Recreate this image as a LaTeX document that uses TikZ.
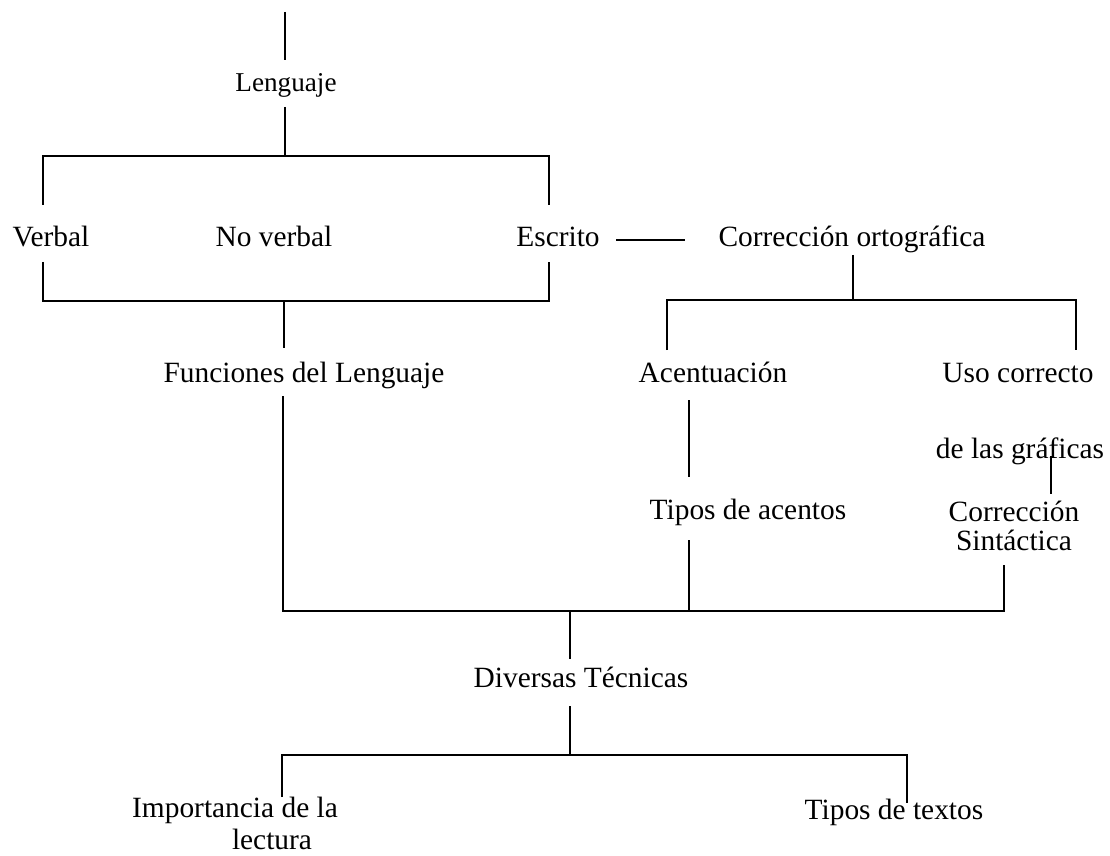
\documentclass[tikz,border=0pt]{standalone}
\usepackage{fontspec}
\setmainfont{Liberation Serif}
\usetikzlibrary{positioning}

\begin{document}
\begin{tikzpicture}[x=0.5pt, y=-0.5pt,
    txt/.style={font=\fontsize{14.7}{14.5}\selectfont, inner sep=1pt, align=center,
        text height=10pt, text depth=3pt},
    rama/.style={line width=0.9pt}]
    \useasboundingbox (0,0) rectangle (1110,856);

    \node[txt, font=\fontsize{13.6}{14}\selectfont] (lenguaje) at (286,85) {Lenguaje};
    \node[txt] (verbal) at (51,240) {Verbal};
    \node[txt] (noverbal) at (274,240) {No verbal};
    \node[txt] (escrito) at (558,240) {Escrito};
    \node[txt] (ortografica) at (852,240) {Corrección ortográfica};
    \node[txt] (funciones) at (304,375) {Funciones del Lenguaje};
    \node[txt] (acentuacion) at (713,375) {Acentuación};
    \node[txt] (uso) at (1018,375) {Uso correcto};
    \node[txt] (graficas) at (1020,451) {de las gráficas};
    \node[txt] (acentos) at (748,512) {Tipos de acentos};
    \node[txt] (sintactica) at (1014,543) {Corrección\\Sintáctica};
    \node[txt] (diversas) at (581,680) {Diversas Técnicas};
    \node[txt] (importancia) at (235,810) {Importancia de la};
    \node[txt] (lectura) at (272,842) {lectura};
    \node[txt] (textos) at (894,812) {Tipos de textos};

    \coordinate (r1) at (285,156);
    \coordinate (r2) at (284,301);
    \coordinate (r3) at (853,300);
    \coordinate (r4) at (570,611);
    \coordinate (r5) at (570,755);

    \draw[rama] (285,12) -- (285,60);
    \draw[rama] (285,107) -- (r1);
    \draw[rama] (43,205) |- (r1) -| (549,205);
    \draw[rama] (43,262) |- (r2) -| (549,262);
    \draw[rama] (r2) -- (284,348);
    \draw[rama, shorten <=7pt, shorten >=15.5pt] (escrito) -- (ortografica);
    \draw[rama] (853,255) -- (r3);
    \draw[rama] (667,350) |- (r3) -| (1076,350);
    \draw[rama] (689,400) -- (689,477);
    \draw[rama] (1051,456) -- (1051,494);
    \draw[rama] (283,396) |- (r4) -| (1004,565);
    \draw[rama] (689,540) -- (689,611);
    \draw[rama] (r4) -- (570,659);
    \draw[rama] (570,706) -- (r5);
    \draw[rama] (282,797) |- (r5) -| (907,803);
\end{tikzpicture}
\end{document}
